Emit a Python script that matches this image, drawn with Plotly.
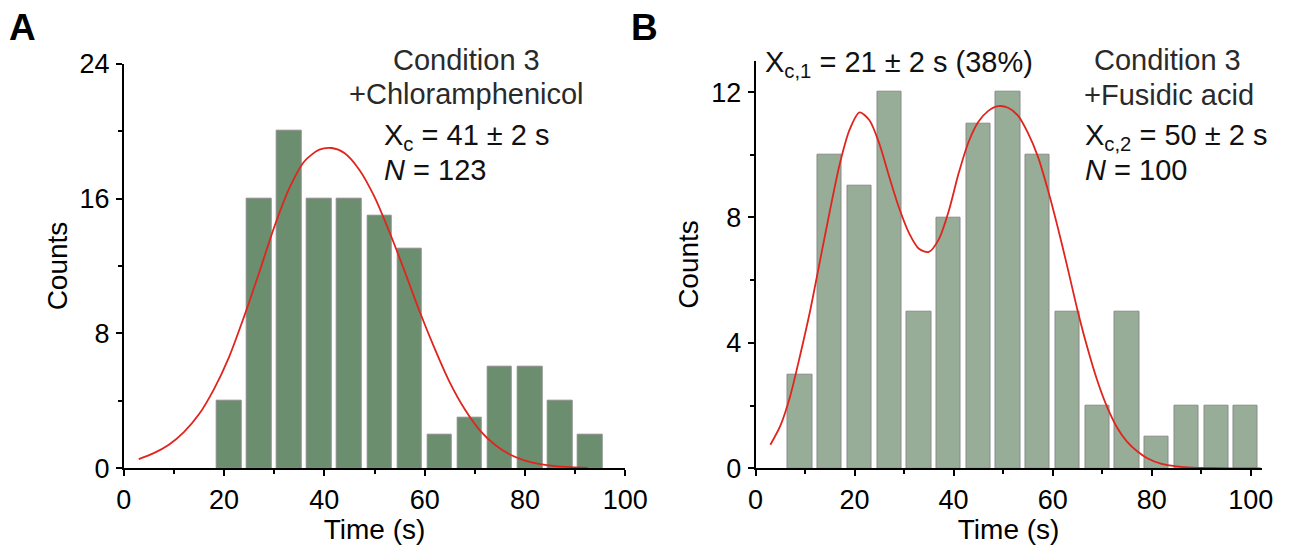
import plotly.graph_objects as go

W, H = 1294, 546

# ---- Panel A data: Condition 3 + Chloramphenicol ----
a_time = [21, 27, 33, 39, 45, 51, 57, 63, 69, 75, 81, 87, 93]
a_counts = [4, 16, 20, 16, 16, 15, 13, 2, 3, 6, 6, 4, 2]
a_fit_x = [3, 6, 9, 12, 15, 18, 21, 24, 27, 30, 33, 36, 39, 41.5,
           44, 47, 50, 53, 56, 59, 62, 65, 68, 71, 74, 77, 80, 83, 86, 89, 92.5]
a_fit_y = [0.55, 0.9, 1.4, 2.15, 3.2, 4.7, 6.6, 9.0, 11.6, 14.3, 16.6, 18.2, 18.9, 19.0,
           18.7, 17.7, 16.1, 14.0, 11.7, 9.3, 7.1, 5.1, 3.5, 2.25, 1.4, 0.82, 0.46,
           0.25, 0.13, 0.07, 0.03]

# ---- Panel B data: Condition 3 + Fusidic acid ----
b_time = [9, 15, 21, 27, 33, 39, 45, 51, 57, 63, 69, 75, 81, 87, 93, 99]
b_counts = [3, 10, 9, 12, 5, 8, 11, 12, 10, 5, 2, 5, 1, 2, 2, 2]
b_fit_x = [3, 5, 7, 9, 11, 13, 15, 17, 19, 21, 23, 25, 27, 29, 31, 33, 35, 37, 39, 41,
           43, 45, 47, 49, 51, 53, 55, 57, 59, 61, 63, 65, 67, 69, 71, 73, 75, 77,
           79, 82, 85, 88, 92, 96, 102]
b_fit_y = [0.75, 1.35, 2.3, 3.6, 5.0, 6.6, 8.2, 9.7, 10.8, 11.35, 11.1, 10.35, 9.3, 8.3,
           7.5, 7.0, 6.9, 7.3, 8.2, 9.4, 10.4, 11.05, 11.4, 11.55, 11.5, 11.25, 10.7,
           9.95, 8.9, 7.7, 6.4, 5.05, 3.85, 2.8, 1.95, 1.3, 0.85, 0.55, 0.33, 0.14,
           0.06, 0.02, 0.01, 0.0, 0.0]

x_ticks = [0, 20, 40, 60, 80, 100]
a_y_ticks = [0, 8, 16, 24]
b_y_ticks = [0, 4, 8, 12]

FONT = "Liberation Sans, Arial, sans-serif"
GREEN_A = "#6b8f6e"
GREEN_B = "#97ad97"
EDGE = "#8a8a8a"
RED = "#e0241e"

fig = go.Figure()
fig.add_trace(go.Bar(x=a_time, y=a_counts, width=4.9, marker=dict(color=GREEN_A, line=dict(color=EDGE, width=1)),
                     xaxis="x", yaxis="y", showlegend=False))
fig.add_trace(go.Scatter(x=a_fit_x, y=a_fit_y, mode="lines", line=dict(color=RED, width=1.8, shape="spline", smoothing=0.8),
                         xaxis="x", yaxis="y", showlegend=False))
fig.add_trace(go.Bar(x=b_time, y=b_counts, width=4.9, marker=dict(color=GREEN_B, line=dict(color=EDGE, width=1)),
                     xaxis="x2", yaxis="y2", showlegend=False))
fig.add_trace(go.Scatter(x=b_fit_x, y=b_fit_y, mode="lines", line=dict(color=RED, width=1.8, shape="spline", smoothing=0.8),
                         xaxis="x2", yaxis="y2", showlegend=False))


def px(v):
    return v / W


def py(v):
    return 1 - v / H


axis_common = dict(showline=True, linecolor="black", linewidth=1.6, showgrid=False, zeroline=False,
                   automargin=False,
                   ticks="outside", ticklen=6, tickwidth=1.5, tickcolor="black",
                   tickfont=dict(family=FONT, size=27, color="black"),
                   title_font=dict(family=FONT, size=28, color="black"))

fig.update_layout(
    width=W, height=H,
    margin=dict(l=0, r=0, t=0, b=0, autoexpand=False),
    paper_bgcolor="white", plot_bgcolor="white",
    bargap=0,
    font=dict(family=FONT, color="black"),
    xaxis=dict(**axis_common, domain=[px(123.7), px(625.3)], range=[0, 100], tickvals=x_ticks,
               minor=dict(dtick=10, tick0=0, ticklen=4, tickwidth=1.5, tickcolor="black", ticks="outside"),
               title=dict(text="Time (s)", standoff=0), anchor="y", ticklabelstandoff=0),
    yaxis=dict(**axis_common, domain=[py(468.3), py(63.7)], range=[0, 24], tickvals=a_y_ticks,
               minor=dict(dtick=4, tick0=0, ticklen=4, tickwidth=1.5, tickcolor="black", ticks="outside"),
               title=dict(text="Counts", standoff=4), anchor="x", ticklabelstandoff=1),
    xaxis2=dict(**axis_common, domain=[px(755.5), px(1261.7)], range=[0, 102.2], tickvals=x_ticks,
                minor=dict(dtick=10, tick0=0, ticklen=4, tickwidth=1.5, tickcolor="black", ticks="outside"),
                title=dict(text="Time (s)", standoff=0), anchor="y2", ticklabelstandoff=0),
    yaxis2=dict(**axis_common, domain=[py(468.3), py(60.7)], range=[0, 13], tickvals=b_y_ticks,
                minor=dict(dtick=2, tick0=0, ticklen=4, tickwidth=1.5, tickcolor="black", ticks="outside"),
                title=dict(text="Counts", standoff=4), anchor="x2", ticklabelstandoff=1),
)

ann = []


def add_text(text, x, y, xanchor="center", size=29, color="#111111"):
    ann.append(dict(text=text, x=px(x), y=py(y), xref="paper", yref="paper", xanchor=xanchor, yanchor="middle",
                    showarrow=False, font=dict(family=FONT, size=size, color=color)))


add_text("<b>A</b>", 7, 27, xanchor="left", size=37, color="black")
add_text("<b>B</b>", 629, 27, xanchor="left", size=37, color="black")

add_text("Condition 3", 466.5, 60, color="#2a2a2a")
add_text("+Chloramphenicol", 466.5, 94, color="#2a2a2a")
add_text("X<sub>c</sub> = 41 ± 2 s", 382, 137, xanchor="left")
add_text("<i>N</i> = 123", 382, 170, xanchor="left")

add_text("X<sub>c,1</sub> = 21 ± 2 s (38%)", 763, 64, xanchor="left")
add_text("Condition 3", 1167.5, 60, color="#2a2a2a")
add_text("+Fusidic acid", 1168.5, 95, color="#2a2a2a")
add_text("X<sub>c,2</sub> = 50 ± 2 s", 1083, 137, xanchor="left")
add_text("<i>N</i> = 100", 1083, 170, xanchor="left")

fig.update_layout(annotations=ann)
fig.write_html("out.html", config={"displayModeBar": False},
               post_script="document.body.style.margin='0px';")
